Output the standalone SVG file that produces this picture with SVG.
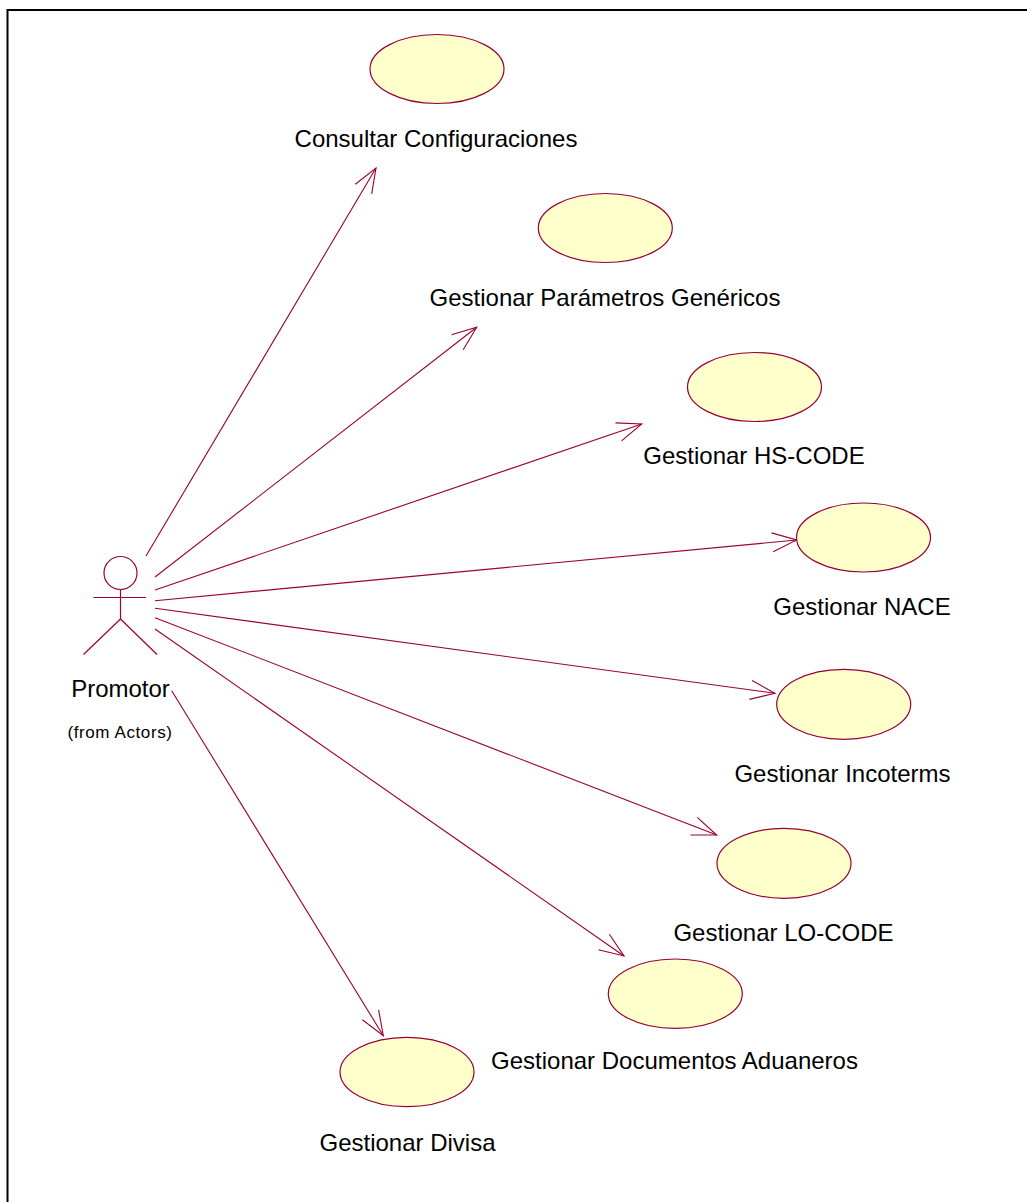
<svg xmlns="http://www.w3.org/2000/svg" width="1027" height="1202" viewBox="0 0 1027 1202">
<defs>
<marker id="open" markerUnits="userSpaceOnUse" markerWidth="30" markerHeight="24" viewBox="-26 -12 28 24" refX="0" refY="0" orient="auto">
<path d="M-24.5,-9.5 L0,0 L-24.5,9.5" fill="none" stroke="#990033" stroke-width="1.1"/>
</marker>
</defs>
<style>
.uc{fill:#ffffcc;stroke:#990033;stroke-width:1.2}
.lbl{font-family:"Liberation Sans",Arial,sans-serif;font-size:24px;fill:#000;text-anchor:middle}
.sm{font-family:"Liberation Sans",Arial,sans-serif;font-size:17px;fill:#000;text-anchor:middle}
.act{fill:none;stroke:#990033;stroke-width:1.2}
.conn line{stroke:#990033;stroke-width:1.1;fill:none;marker-end:url(#open)}
</style>
<rect width="1027" height="1202" fill="#ffffff"/>
<path d="M7.5,1202 V10 H1027" fill="none" stroke="#000" stroke-width="2"/>

<g id="connectors" class="conn">
<line x1="146" y1="556" x2="376" y2="168"/>
<line x1="155" y1="577" x2="476.7" y2="327.3"/>
<line x1="155" y1="590" x2="641.7" y2="424"/>
<line x1="155" y1="600.7" x2="796.7" y2="540"/>
<line x1="155" y1="608.3" x2="775" y2="693.3"/>
<line x1="155" y1="617.7" x2="716.7" y2="835"/>
<line x1="155" y1="629" x2="624" y2="956"/>
<line x1="171.7" y1="690.7" x2="383.3" y2="1035.7"/>
</g>

<g id="promotor">
<circle class="act" cx="120.5" cy="573" r="16.5"/>
<line class="act" x1="93.5" y1="597.5" x2="146" y2="597.5"/>
<line class="act" x1="120.5" y1="589.5" x2="120.5" y2="619"/>
<line class="act" x1="120.5" y1="619" x2="83.5" y2="654.5"/>
<line class="act" x1="120.5" y1="619" x2="157" y2="654.5"/>
<text class="lbl" x="120.5" y="697">Promotor</text>
<text class="sm" x="120" y="738" letter-spacing="0.6">(from Actors)</text>
</g>

<g id="consultar-configuraciones">
<ellipse class="uc" cx="437" cy="69" rx="67" ry="34.5"/>
<text class="lbl" x="436" y="147">Consultar Configuraciones</text>
</g>

<g id="gestionar-parametros">
<ellipse class="uc" cx="605.3" cy="228" rx="67" ry="34.5"/>
<text class="lbl" x="605" y="306">Gestionar Parámetros Genéricos</text>
</g>

<g id="gestionar-hs-code">
<ellipse class="uc" cx="754.5" cy="387" rx="67" ry="34.5"/>
<text class="lbl" x="754" y="464">Gestionar HS-CODE</text>
</g>

<g id="gestionar-nace">
<ellipse class="uc" cx="863.5" cy="537.5" rx="67" ry="34.5"/>
<text class="lbl" x="862" y="615">Gestionar NACE</text>
</g>

<g id="gestionar-incoterms">
<ellipse class="uc" cx="843.7" cy="704.3" rx="67" ry="35"/>
<text class="lbl" x="842.5" y="782">Gestionar Incoterms</text>
</g>

<g id="gestionar-lo-code">
<ellipse class="uc" cx="784" cy="863.3" rx="67" ry="35"/>
<text class="lbl" x="783.5" y="941">Gestionar LO-CODE</text>
</g>

<g id="gestionar-documentos">
<ellipse class="uc" cx="675.3" cy="993.7" rx="67" ry="34.7"/>
<text class="lbl" x="674.5" y="1069">Gestionar Documentos Aduaneros</text>
</g>

<g id="gestionar-divisa">
<ellipse class="uc" cx="407" cy="1072" rx="67" ry="34.7"/>
<text class="lbl" x="407.5" y="1151">Gestionar Divisa</text>
</g>
</svg>
